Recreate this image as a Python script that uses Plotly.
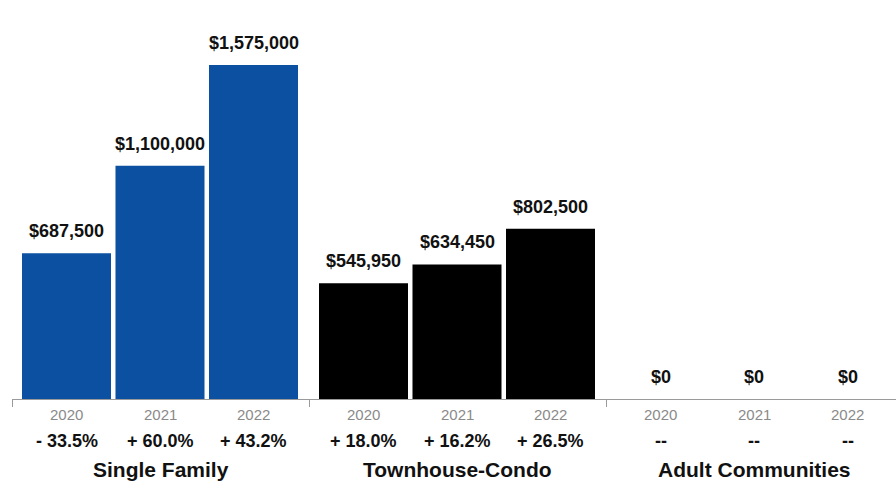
import plotly.graph_objects as go

# Median sale price by property type and year
groups = ["Single Family", "Townhouse-Condo", "Adult Communities"]
years = ["2020", "2021", "2022"]
single_family = [687500, 1100000, 1575000]
townhouse_condo = [545950, 634450, 802500]
adult_communities = [0, 0, 0]
pct_single_family = ["- 33.5%", "+ 60.0%", "+ 43.2%"]
pct_townhouse_condo = ["+ 18.0%", "+ 16.2%", "+ 26.5%"]
pct_adult_communities = ["--", "--", "--"]

series = [single_family, townhouse_condo, adult_communities]
pcts = [pct_single_family, pct_townhouse_condo, pct_adult_communities]
colors = ["#0b50a1", "#000000", "#000000"]

FONT = "Helvetica Neue, Helvetica, Arial, Liberation Sans, sans-serif"
W, H = 896, 485
L, B = 12, 86
slot_px = 99.0                      # one x unit in pixels (3 units per group)
offsets = [0.5505, 1.4949, 2.4394]  # bar centres within a group
bar_w = 0.899

fig = go.Figure()
annotations = []
for g, (name, vals, pc, col) in enumerate(zip(groups, series, pcts, colors)):
    xs = [g * 3 + o for o in offsets]
    fig.add_trace(go.Bar(
        x=xs, y=vals, width=[bar_w] * 3,
        marker=dict(color=col, line=dict(width=0)),
        hoverinfo="skip", showlegend=False,
    ))
    for x, v, yr, p in zip(xs, vals, years, pc):
        annotations.append(dict(
            x=x, y=v, xref="x", yref="y", text=f"${v:,.0f}",
            showarrow=False, yanchor="middle", yshift=22,
            font=dict(family=FONT, size=18, color="#111111", weight="bold"),
        ))
        annotations.append(dict(
            x=x, y=0, xref="x", yref="paper", text=yr,
            showarrow=False, yanchor="middle", yshift=-15,
            font=dict(family=FONT, size=15, color="#8a8a8a"),
        ))
        annotations.append(dict(
            x=x, y=0, xref="x", yref="paper", text=p,
            showarrow=False, yanchor="middle", yshift=-42,
            font=dict(family=FONT, size=18, color="#111111", weight="bold"),
        ))
    annotations.append(dict(
        x=g * 3 + 1.5, y=0, xref="x", yref="paper", text=name,
        showarrow=False, yanchor="middle", yshift=-70,
        font=dict(family=FONT, size=21, color="#111111", weight="bold"),
    ))

fig.update_layout(
    width=W, height=H,
    margin=dict(l=L, r=0, t=0, b=B),
    paper_bgcolor="white", plot_bgcolor="white",
    barmode="overlay",
    annotations=annotations,
    xaxis=dict(
        range=[0, (W - L) / slot_px],
        tickvals=[0, 3, 6], ticks="outside", ticklen=7, tickwidth=1,
        tickcolor="#9a9a9a", showticklabels=False,
        showline=True, linecolor="#9a9a9a", linewidth=1,
        showgrid=False, zeroline=False, fixedrange=True,
    ),
    yaxis=dict(
        range=[0, 1882000], visible=False, showgrid=False,
        zeroline=False, fixedrange=True,
    ),
)

fig.write_html("out.html")
